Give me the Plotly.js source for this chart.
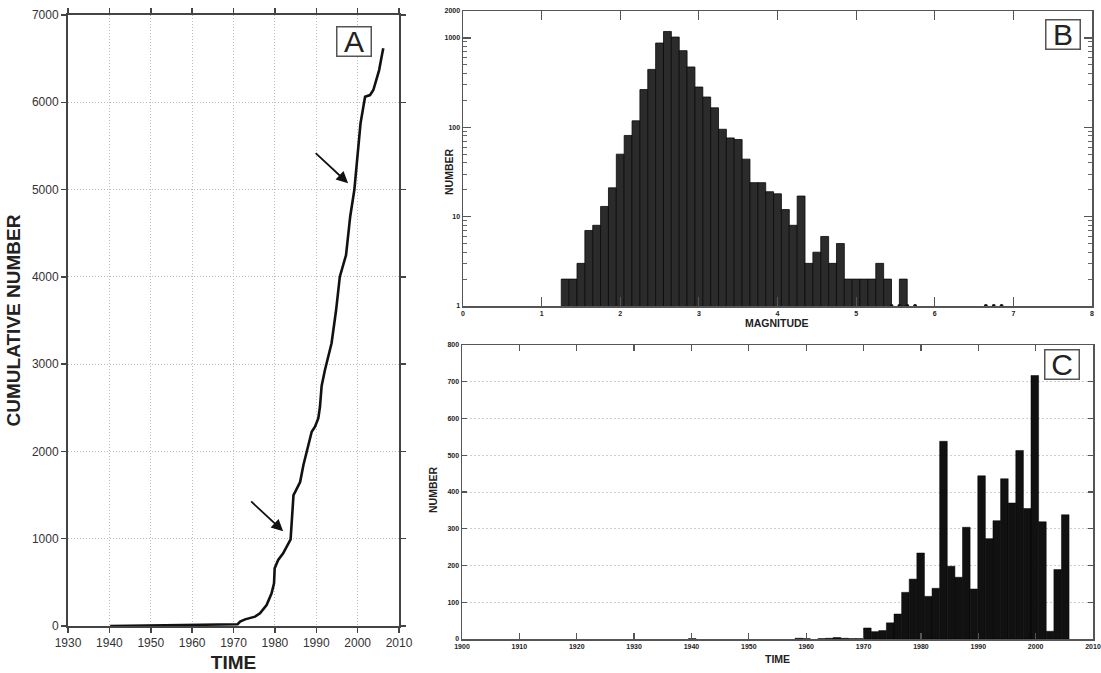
<!DOCTYPE html>
<html>
<head>
<meta charset="utf-8">
<script src="https://cdn.plot.ly/plotly-3.0.1.min.js"></script>
<style>
  html, body { margin: 0; padding: 0; background: #fff; }
  #chart { width: 1101px; height: 673px; }
</style>
</head>
<body>
<div id="chart"></div>
<script>
// ---- A: cumulative number of events through time ----
const cumYears  = [1940.2, 1955.9, 1965.0, 1966.5, 1971.0, 1971.6, 1972.8, 1975.2, 1976.4, 1978.0,
                   1979.2, 1979.8, 1979.95, 1980.8, 1982.0, 1983.8, 1984.1, 1984.5, 1985.0, 1986.1,
                   1986.9, 1988.1, 1988.9, 1989.7, 1990.5, 1990.9, 1991.3, 1992.1, 1992.9, 1993.7,
                   1994.8, 1995.7, 1997.2, 1998.2, 1999.2, 2000.2, 2000.7, 2001.8, 2003.0, 2003.8,
                   2005.2, 2005.8, 2006.2];
const cumCounts = [0, 6, 12, 18, 20, 50, 76, 107, 145, 240,
                   374, 489, 661, 756, 832, 993, 1252, 1500, 1545, 1650,
                   1844, 2060, 2226, 2283, 2380, 2512, 2750, 2933, 3105, 3239,
                   3620, 4002, 4250, 4689, 4995, 5530, 5759, 6064, 6083, 6140,
                   6369, 6522, 6618];

// ---- B: number of events per 0.1 magnitude bin (bin centres) ----
const magBins   = [1.3, 1.4, 1.5, 1.6, 1.7, 1.8, 1.9, 2.0, 2.1, 2.2,
                   2.3, 2.4, 2.5, 2.6, 2.7, 2.8, 2.9, 3.0, 3.1, 3.2,
                   3.3, 3.4, 3.5, 3.6, 3.7, 3.8, 3.9, 4.0, 4.1, 4.2,
                   4.3, 4.4, 4.5, 4.6, 4.7, 4.8, 4.9, 5.0, 5.1, 5.2,
                   5.3, 5.4, 5.5, 5.6, 5.7, 6.7, 6.8];
const magCounts = [2, 2, 3, 7, 8, 13, 21, 50, 81, 118,
                   264, 444, 876, 1180, 1022, 720, 473, 282, 218, 165,
                   95, 76, 73, 44, 24, 24, 19, 18, 12, 8,
                   17, 3, 4, 6, 3, 5, 2, 2, 2, 2,
                   3, 2, 1, 2, 1, 1, 1];
const magBinWidth = 0.1;
const magTickVals = [1, 10, 100, 1000, 2000];
const magTickText = ['1', '10', '100', '1000', '2000'];

// ---- C: number of events per time bin (bin start years) ----
const timeBinWidth  = 1.327;
const timeBinStart  = [1939.48, 1958.06, 1959.39, 1962.04, 1963.37, 1964.69, 1966.02, 1967.35, 1968.67,
                       1970.00, 1971.33, 1972.65, 1973.98, 1975.31, 1976.64, 1977.96, 1979.29, 1980.62,
                       1981.94, 1983.27, 1984.60, 1985.92, 1987.25, 1988.58, 1989.91, 1991.23, 1992.56,
                       1993.89, 1995.21, 1996.54, 1997.87, 1999.19, 2000.52, 2001.85, 2003.18, 2004.50];
const timeBinCounts = [1, 2, 1, 1, 2, 4, 2, 1, 1,
                       30, 20, 23, 44, 68, 127, 163, 234, 116,
                       138, 538, 198, 168, 304, 136, 444, 273, 322,
                       436, 370, 513, 355, 717, 319, 21, 189, 338];

// ---- geometry helpers (pixel boxes -> paper fractions) ----
const W = 1101, H = 673;
const px = v => v / W;
const py = v => 1 - v / H;

const FONT = 'Liberation Sans, Arial, sans-serif';

// bins with a single event have zero height on the log axis; mark their edges with dots
const barMags = [], barCounts = [];
const dotSet = new Set();
magBins.forEach((m, i) => {
  if (magCounts[i] > 1) { barMags.push(m); barCounts.push(magCounts[i]); }
  else {
    dotSet.add((m - magBinWidth / 2).toFixed(2));
    dotSet.add((m + magBinWidth / 2).toFixed(2));
  }
});
const dotMags = Array.from(dotSet).map(Number).sort((a, b) => a - b);

const traces = [
  {
    type: 'scatter', mode: 'lines',
    x: cumYears, y: cumCounts,
    line: { color: '#111', width: 2.6 },
    xaxis: 'x', yaxis: 'y', hoverinfo: 'skip'
  },
  {
    type: 'bar',
    x: barMags, y: barCounts, width: magBinWidth,
    marker: { color: '#2b2b2b', line: { color: '#0a0a0a', width: 0.8 } },
    xaxis: 'x2', yaxis: 'y2', hoverinfo: 'skip'
  },
  {
    type: 'scatter', mode: 'markers',
    x: dotMags, y: dotMags.map(() => 1),
    marker: { color: '#111', size: 4 },
    cliponaxis: false,
    xaxis: 'x2', yaxis: 'y2', hoverinfo: 'skip'
  },
  {
    type: 'bar',
    x: timeBinStart, y: timeBinCounts, width: timeBinWidth, offset: 0,
    marker: { color: '#111', line: { color: '#000', width: 0.5 } },
    xaxis: 'x3', yaxis: 'y3', hoverinfo: 'skip'
  }
];

const smallTick = { family: FONT, size: 7, color: '#222', weight: 'bold' };
const boxFrame = { showline: true, linecolor: '#555', linewidth: 1.5, mirror: 'allticks', zeroline: false };

// centred annotation helper
const label = (x, y, text, extra) => Object.assign({
  xref: 'paper', yref: 'paper', x: px(x), y: py(y), xanchor: 'center', yanchor: 'middle',
  text: text, showarrow: false
}, extra);

const letterBox = {
  font: { family: FONT, size: 30, color: '#222' }, width: 33, height: 28, borderpad: 0,
  bordercolor: '#555', borderwidth: 1.5, bgcolor: '#fff'
};
const smallTitle = { font: { family: FONT, size: 10.5, color: '#222', weight: 'bold' } };

const layout = {
  width: W, height: H,
  margin: { l: 0, r: 0, t: 0, b: 0 },
  paper_bgcolor: '#fff', plot_bgcolor: '#fff',
  showlegend: false,
  bargap: 0,
  font: { family: FONT, color: '#222' },

  // panel A
  xaxis: {
    domain: [px(68), px(399)], anchor: 'y',
    range: [1930, 2010], dtick: 10, tick0: 1930,
    ticks: 'outside', ticklen: 5, tickwidth: 1.5, tickcolor: '#444',
    showline: true, linecolor: '#444', linewidth: 2, mirror: 'allticks',
    showgrid: true, gridcolor: '#bdbdbd', griddash: '1px,2px', gridwidth: 1,
    zeroline: false,
    tickfont: { family: FONT, size: 12, color: '#333' },
    title: { text: 'TIME', font: { family: FONT, size: 19, color: '#222', weight: 'bold' }, standoff: 6 }
  },
  yaxis: {
    domain: [py(626), py(15)], anchor: 'x',
    range: [0, 7000], dtick: 1000,
    ticks: 'outside', ticklen: 5, tickwidth: 1.5, tickcolor: '#444',
    showline: true, linecolor: '#444', linewidth: 2, mirror: 'allticks',
    showgrid: true, gridcolor: '#bdbdbd', griddash: '1px,2px', gridwidth: 1,
    zeroline: false,
    tickfont: { family: FONT, size: 12, color: '#333' },
    title: { text: 'CUMULATIVE NUMBER', font: { family: FONT, size: 19, color: '#222', weight: 'bold' }, standoff: 6 }
  },

  // panel B
  xaxis2: Object.assign({}, boxFrame, {
    domain: [px(463), px(1092)], anchor: 'y2',
    range: [0, 8], dtick: 1,
    ticks: 'inside', ticklen: 9, tickwidth: 1.2, tickcolor: '#555',
    showgrid: false,
    tickfont: smallTick
  }),
  yaxis2: Object.assign({}, boxFrame, {
    domain: [py(306), py(11)], anchor: 'x2',
    type: 'log', range: [0, Math.log10(2000)],
    tickmode: 'array', tickvals: magTickVals, ticktext: magTickText,
    ticks: 'inside', ticklen: 8, tickwidth: 1.2, tickcolor: '#555',
    minor: {
      ticks: 'inside', ticklen: 4, tickwidth: 1, tickcolor: '#666',
      tickmode: 'array',
      tickvals: [2, 3, 4, 5, 6, 7, 8, 9, 20, 30, 40, 50, 60, 70, 80, 90, 200, 300, 400, 500, 600, 700, 800, 900]
    },
    showgrid: false,
    tickfont: smallTick
  }),

  // panel C
  xaxis3: Object.assign({}, boxFrame, {
    domain: [px(462), px(1093)], anchor: 'y3',
    range: [1900, 2010], dtick: 10, tick0: 1900,
    ticks: 'inside', ticklen: 6, tickwidth: 1.2, tickcolor: '#555',
    showgrid: false,
    tickfont: smallTick
  }),
  yaxis3: Object.assign({}, boxFrame, {
    domain: [py(639), py(345)], anchor: 'x3',
    range: [0, 800], dtick: 100,
    ticks: 'inside', ticklen: 5, tickwidth: 1.2, tickcolor: '#555',
    showgrid: true, gridcolor: '#cfcfcf', griddash: '2px,2px', gridwidth: 1,
    tickfont: smallTick
  }),

  annotations: [
    // panel letters
    label(354, 41.5, 'A', letterBox),
    label(1062.5, 34.5, 'B', letterBox),
    label(1061.5, 364.5, 'C', letterBox),

    // arrows pointing at the two steep steps of the cumulative curve
    { xref: 'x', yref: 'y', axref: 'x', ayref: 'y', x: 1982.0, y: 1085, ax: 1973.9, ay: 1443,
      text: '', showarrow: true, arrowhead: 2, arrowsize: 1.3, arrowwidth: 1.8, arrowcolor: '#111' },
    { xref: 'x', yref: 'y', axref: 'x', ayref: 'y', x: 1997.7, y: 5072, ax: 1989.5, ay: 5434,
      text: '', showarrow: true, arrowhead: 2, arrowsize: 1.3, arrowwidth: 1.8, arrowcolor: '#111' },

    // axis titles of panels B and C
    label(449, 172, 'NUMBER', Object.assign({ textangle: -90 }, smallTitle)),
    label(777, 323, 'MAGNITUDE', smallTitle),
    label(433, 490, 'NUMBER', Object.assign({ textangle: -90 }, smallTitle)),
    label(777, 659, 'TIME', smallTitle)
  ]
};

Plotly.newPlot('chart', traces, layout, { staticPlot: true, displayModeBar: false });
</script>
</body>
</html>
